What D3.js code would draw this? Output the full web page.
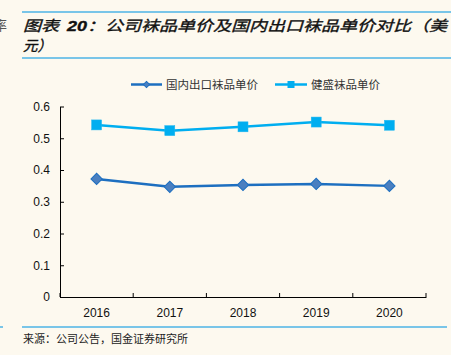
<!DOCTYPE html>
<html><head><meta charset="utf-8">
<script src="https://cdn.jsdelivr.net/npm/d3@7"></script>
<style>body{margin:0;background:#fdf9ef;}svg{display:block;}</style>
</head><body>
<svg id="c" width="451" height="355"></svg>
<script>
const categories = ["2016","2017","2018","2019","2020"];
const domesticExport = [0.372, 0.347, 0.353, 0.356, 0.350];
const jianSheng = [0.542, 0.524, 0.536, 0.551, 0.541];
const yTicks = [0, 0.1, 0.2, 0.3, 0.4, 0.5, 0.6];
const seriesNames = ["国内出口袜品单价", "健盛袜品单价"];
const titleLine1a = "图表\u00a0\u00a0";
const titleLine1b = "20";
const titleLine1c = "：公司袜品单价及国内出口袜品单价对比（美";
const titleLine2 = "元）";
const sourceText = "来源：公司公告，国金证券研究所";

const svg = d3.select("#c");
const bg = "#fdf9ef";
svg.append("rect").attr("width",451).attr("height",355).attr("fill",bg);

const blueLine = "#4db3e6";
svg.append("line").attr("x1",22).attr("x2",451).attr("y1",12).attr("y2",12).attr("stroke",blueLine).attr("stroke-width",1.5);
svg.append("line").attr("x1",22).attr("x2",451).attr("y1",58).attr("y2",58).attr("stroke",blueLine).attr("stroke-width",1.5);
svg.append("text").attr("x",-6).attr("y",30).attr("font-family","Noto Sans CJK SC").attr("font-size",13).attr("fill","#555").text("率");
svg.append("line").attr("x1",0).attr("x2",3).attr("y1",327).attr("y2",327).attr("stroke",blueLine).attr("stroke-width",1.5);

const tf = "'Noto Sans CJK SC', sans-serif";
const t1 = svg.append("text").attr("x",23).attr("y",31).attr("font-family",tf).attr("font-size",14.5).attr("font-style","italic").attr("fill","#111")
  .attr("stroke","#111").attr("stroke-width",0.35)
  .attr("textLength",424).attr("lengthAdjust","spacingAndGlyphs");
t1.append("tspan").text(titleLine1a);
t1.append("tspan").attr("font-family","'Liberation Sans', Arial, sans-serif").attr("font-weight","bold").text(titleLine1b);
t1.append("tspan").text(titleLine1c);
svg.append("text").attr("x",23).attr("y",51).attr("font-family",tf).attr("font-size",14.5).attr("font-style","italic").attr("fill","#111")
  .attr("stroke","#111").attr("stroke-width",0.35).text(titleLine2);

svg.append("line").attr("x1",22).attr("x2",447).attr("y1",327).attr("y2",327).attr("stroke",blueLine).attr("stroke-width",1.5);
svg.append("text").attr("x",23).attr("y",343).attr("font-family",tf).attr("font-size",11).attr("fill","#222").text(sourceText);

const x = d3.scaleBand().domain(categories).range([60,426]);
const y = d3.scaleLinear().domain([0,0.6]).range([297,106.5]);

const yAxis = svg.append("g").attr("transform","translate(60,0)")
  .call(d3.axisLeft(y).tickValues(yTicks).tickFormat(d=>d===0?"0":d3.format(".1f")(d)).tickSize(5).tickSizeOuter(0));
yAxis.select(".domain").attr("stroke","#000");
yAxis.selectAll(".tick line").attr("stroke","#000").attr("x1",0).attr("x2",4);
yAxis.selectAll("text").attr("font-family","'Liberation Sans', Arial, sans-serif").attr("font-size",12).attr("fill","#111").attr("x",-10);

const xAxis = svg.append("g").attr("transform","translate(0,297)")
  .call(d3.axisBottom(x).tickSize(0).tickSizeOuter(0));
xAxis.select(".domain").attr("stroke","#000");
xAxis.selectAll("text").attr("font-family","'Liberation Sans', Arial, sans-serif").attr("font-size",12).attr("fill","#111").attr("dy","1.45em");
const bounds = categories.map(c=>x(c)+x.bandwidth()).concat([x(categories[0])]);
svg.append("g").selectAll("line").data(bounds).join("line")
  .attr("x1",d=>d).attr("x2",d=>d).attr("y1",297).attr("y2",293).attr("stroke","#000");

const cx = d=>x(d)+x.bandwidth()/2;
const line = d3.line().x((d,i)=>cx(categories[i])).y(d=>y(d));

const c1 = "#1d6fc0", c1f = "#4a7fc0", c2 = "#00aef0";
svg.append("path").datum(domesticExport).attr("d",line).attr("fill","none").attr("stroke",c1).attr("stroke-width",2.5);
svg.append("path").datum(jianSheng).attr("d",line).attr("fill","none").attr("stroke",c2).attr("stroke-width",2.5);

const diamond = d3.symbol().type(d3.symbolSquare).size(64);
svg.append("g").selectAll("path").data(domesticExport).join("path")
  .attr("d",diamond()).attr("transform",(d,i)=>`translate(${cx(categories[i])},${y(d)}) rotate(45)`)
  .attr("fill",c1f).attr("stroke",c1).attr("stroke-width",1);
svg.append("g").selectAll("rect").data(jianSheng).join("rect")
  .attr("x",(d,i)=>cx(categories[i])-5).attr("y",d=>y(d)-5).attr("width",10).attr("height",10)
  .attr("fill",c2).attr("stroke","#22b8f0").attr("stroke-width",0.5);

const lg = svg.append("g");
lg.append("line").attr("x1",131).attr("x2",162).attr("y1",84.5).attr("y2",84.5).attr("stroke",c1).attr("stroke-width",2.5);
lg.append("path").attr("d",d3.symbol().type(d3.symbolSquare).size(20)()).attr("transform","translate(146.5,84.5) rotate(45)").attr("fill",c1f).attr("stroke",c1);
lg.append("text").attr("x",166).attr("y",89).attr("font-family",tf).attr("font-size",11.5).attr("fill","#333").text(seriesNames[0]);
lg.append("line").attr("x1",275).attr("x2",307).attr("y1",84.5).attr("y2",84.5).attr("stroke",c2).attr("stroke-width",2.5);
lg.append("rect").attr("x",287.5).attr("y",81).attr("width",7).attr("height",7).attr("fill",c2);
lg.append("text").attr("x",311).attr("y",89).attr("font-family",tf).attr("font-size",11.5).attr("fill","#333").text(seriesNames[1]);
</script>
</body></html>
